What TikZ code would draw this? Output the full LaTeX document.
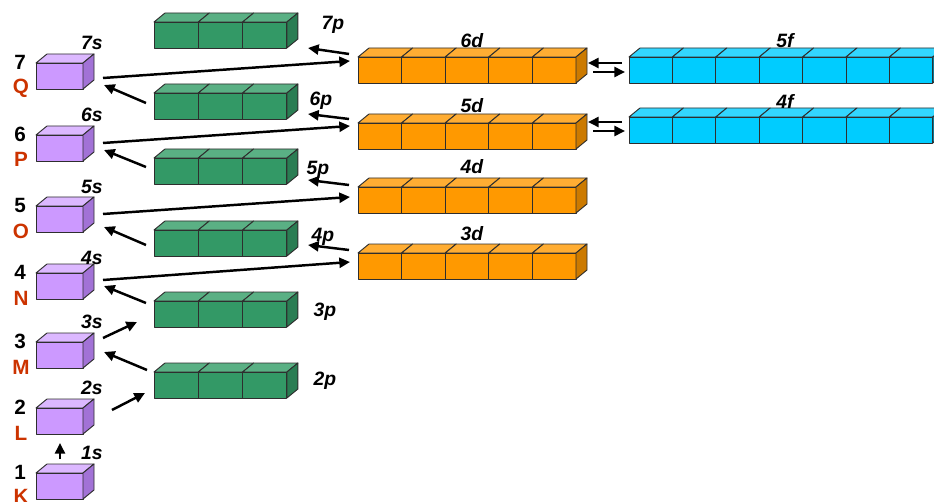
\documentclass[tikz,border=0pt]{standalone}
\usepackage{fontspec}
\setmainfont{Liberation Sans}
\usetikzlibrary{arrows.meta}
\definecolor{purF}{HTML}{CC99FF}
\definecolor{purT}{HTML}{DCB8FF}
\definecolor{purS}{HTML}{A272D6}
\definecolor{grnF}{HTML}{339966}
\definecolor{grnT}{HTML}{5AB084}
\definecolor{grnS}{HTML}{2A7D53}
\definecolor{orgF}{HTML}{FF9900}
\definecolor{orgT}{HTML}{FFAD33}
\definecolor{orgS}{HTML}{CC7A00}
\definecolor{cynF}{HTML}{00CCFF}
\definecolor{cynT}{HTML}{33D6FF}
\definecolor{cynS}{HTML}{00A3CC}
\definecolor{shellred}{HTML}{CC3300}
\definecolor{edgecol}{HTML}{2E2E2E}
\newcommand{\cuberow}[8]{% name, x, ytop, n, w, front, top, side
  \foreach \i in {1,...,#4}{
    \pgfmathsetmacro\xa{#2+(\i-1)*#5}
    \pgfmathsetmacro\xb{#2+\i*#5}
    \filldraw[fill=#7,edgeline] (\xa,#3) -- (\xa+11,#3-9) -- (\xb+11,#3-9) -- (\xb,#3) -- cycle;
    \filldraw[fill=#6,edgeline] (\xa,#3) rectangle (\xb,#3+26);
  }
  \pgfmathsetmacro\xe{#2+#4*#5}
  \filldraw[fill=#8,edgeline] (\xe,#3) -- (\xe+11,#3-9) -- (\xe+11,#3+17) -- (\xe,#3+26) -- cycle;
  \node[inner sep=0pt, minimum width={#4*#5*0.75pt}, minimum height={19.5pt}, anchor=north west] (#1) at (#2,#3) {};
}
\tikzset{
  edgeline/.style={draw=edgecol, line width=0.7pt, line join=round},
  arr/.style={-{Triangle[length=8pt,width=7.5pt]}, line width=1.85pt, black},
  orb/.style={font=\fontsize{14.5}{16}\selectfont\bfseries\itshape, inner sep=0pt},
  num/.style={font=\fontsize{15.5}{17}\selectfont\bfseries, inner sep=0pt},
  shell/.style={font=\fontsize{15.5}{17}\selectfont\bfseries, text=shellred, inner sep=0pt}
}
\begin{document}
\begin{tikzpicture}[x=0.75pt,y=-0.75pt]
\useasboundingbox (0,0) rectangle (934,502);
\clip (0,0) rectangle (934,502);
% s boxes
\cuberow{s7}{36}{63}{1}{47}{purF}{purT}{purS}
\cuberow{s6}{36}{135}{1}{47}{purF}{purT}{purS}
\cuberow{s5}{36}{206}{1}{47}{purF}{purT}{purS}
\cuberow{s4}{36}{273}{1}{47}{purF}{purT}{purS}
\cuberow{s3}{36}{342}{1}{47}{purF}{purT}{purS}
\cuberow{s2}{36}{408}{1}{47}{purF}{purT}{purS}
\cuberow{s1}{36}{473}{1}{47}{purF}{purT}{purS}
% p boxes
\cuberow{p7}{154}{22}{3}{44.3}{grnF}{grnT}{grnS}
\cuberow{p6}{154}{93}{3}{44.3}{grnF}{grnT}{grnS}
\cuberow{p5}{154}{158}{3}{44.3}{grnF}{grnT}{grnS}
\cuberow{p4}{154}{230}{3}{44.3}{grnF}{grnT}{grnS}
\cuberow{p3}{154}{301}{3}{44.3}{grnF}{grnT}{grnS}
\cuberow{p2}{154}{372}{3}{44.3}{grnF}{grnT}{grnS}
% d boxes
\cuberow{d6}{358}{57}{5}{43.6}{orgF}{orgT}{orgS}
\cuberow{d5}{358}{123}{5}{43.6}{orgF}{orgT}{orgS}
\cuberow{d4}{358}{187}{5}{43.6}{orgF}{orgT}{orgS}
\cuberow{d3}{358}{253}{5}{43.6}{orgF}{orgT}{orgS}
% f boxes
\cuberow{f5}{629}{57}{7}{43.4}{cynF}{cynT}{cynS}
\cuberow{f4}{629}{117}{7}{43.4}{cynF}{cynT}{cynS}
% shell numbers and letters
\node[num] (n7) at (20,62) {7};   \node[shell] (lQ) at (21,88) {Q};
\node[num] (n6) at (20,134) {6};  \node[shell] (lP) at (21,159) {P};
\node[num] (n5) at (20,205) {5};  \node[shell] (lO) at (21,231) {O};
\node[num] (n4) at (20,272) {4};  \node[shell] (lN) at (21,298) {N};
\node[num] (n3) at (20,341) {3};  \node[shell] (lM) at (21,367) {M};
\node[num] (n2) at (20,407) {2};  \node[shell] (lL) at (21,433) {L};
\node[num] (n1) at (20,472) {1};  \node[shell] (lK) at (21,496) {K};
% orbital labels
\node[orb] (t7s) at (92,43) {7s};
\node[orb] (t6s) at (92,115) {6s};
\node[orb] (t5s) at (92,187) {5s};
\node[orb] (t4s) at (92,258) {4s};
\node[orb] (t3s) at (92,322) {3s};
\node[orb] (t2s) at (92,388) {2s};
\node[orb] (t1s) at (92,453) {1s};
\node[orb] (t7p) at (333,25) {7p};
\node[orb] (t6p) at (321,101) {6p};
\node[orb] (t5p) at (318,170) {5p};
\node[orb] (t4p) at (323,237) {4p};
\node[orb] (t3p) at (325,312) {3p};
\node[orb] (t2p) at (325,381) {2p};
\node[orb] (t6d) at (472,41) {6d};
\node[orb] (t5d) at (472,106) {5d};
\node[orb] (t4d) at (472,167) {4d};
\node[orb] (t3d) at (472,234) {3d};
\node[orb] (t5f) at (785,41) {5f};
\node[orb] (t4f) at (785,101) {4f};
% arrow end points
\coordinate (a1s) at (60,459);  \coordinate (a1e) at (60,443);
\coordinate (a2s) at (112,410); \coordinate (a2e) at (145,393);
\coordinate (a3s) at (147,370); \coordinate (a3e) at (104,352);
\coordinate (a4s) at (103,338); \coordinate (a4e) at (137,322);
\coordinate (a5s) at (146,303); \coordinate (a5e) at (104,286);
\coordinate (a6s) at (103,280); \coordinate (a6e) at (350,262);
\coordinate (a7s) at (349,250); \coordinate (a7e) at (308,245);
\coordinate (a8s) at (146,245); \coordinate (a8e) at (104,227);
\coordinate (a9s) at (103,214); \coordinate (a9e) at (350,197);
\coordinate (a10s) at (349,185); \coordinate (a10e) at (308,180);
\coordinate (a11s) at (146,167); \coordinate (a11e) at (104,150);
\coordinate (a12s) at (103,143); \coordinate (a12e) at (350,126);
\coordinate (a13s) at (349,119); \coordinate (a13e) at (308,114);
\coordinate (a14s) at (146,103); \coordinate (a14e) at (104,85);
\coordinate (a15s) at (103,78);  \coordinate (a15e) at (350,61);
\coordinate (a16s) at (349,54);  \coordinate (a16e) at (308,48);
\coordinate (a17s) at (622,63);  \coordinate (a17e) at (588,63);
\coordinate (a18s) at (593,72);  \coordinate (a18e) at (625,72);
\coordinate (a19s) at (622,122); \coordinate (a19e) at (588,122);
\coordinate (a20s) at (593,131); \coordinate (a20e) at (625,131);
\foreach \k in {1,...,20}{\draw[arr] (a\k s) -- (a\k e);}
\end{tikzpicture}
\end{document}
